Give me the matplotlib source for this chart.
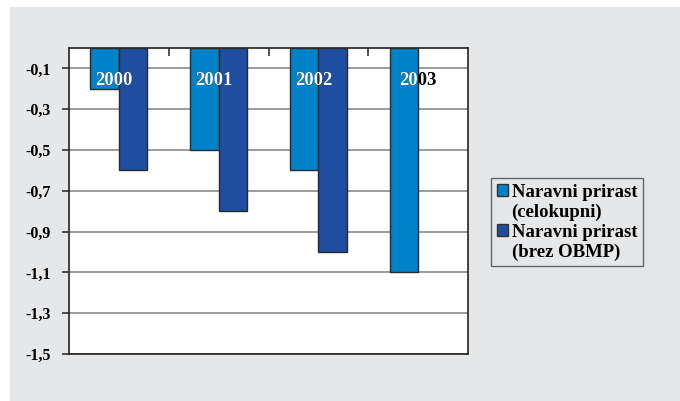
import numpy as np
import matplotlib
matplotlib.use("Agg")
import matplotlib.pyplot as plt
from matplotlib.patches import Rectangle, Patch

years = ["2000", "2001", "2002", "2003"]
total = [-0.2, -0.5, -0.6, -1.1]
without_obmp = [-0.6, -0.8, -1.0, np.nan]
series_names = ["Naravni prirast\n(celokupni)", "Naravni prirast\n(brez OBMP)"]
y_ticks = [-0.1, -0.3, -0.5, -0.7, -0.9, -1.1, -1.3, -1.5]

LIGHT = "#0082c8"
DARK = "#1f4ea0"
BG = "#e6e7e9"
FONT = "Liberation Serif"

fig = plt.figure(figsize=(6.8, 4.01), dpi=100)
fig.patch.set_facecolor("white")
fig.add_artist(Rectangle((10 / 680, 0), 1, 1 - 7 / 401, transform=fig.transFigure,
                         facecolor=BG, edgecolor="none", zorder=-10))

ax = fig.add_axes([69 / 680, 1 - 354 / 401, 399 / 680, 306 / 401])
ax.set_facecolor("white")

x = np.arange(len(years))
w = 0.285
bars1 = ax.bar(x - w / 2, total, w, color=LIGHT, edgecolor="#2a2a2a", linewidth=1.0, zorder=3)
bars2 = ax.bar(x + w / 2, without_obmp, w, color=DARK, edgecolor="#2a2a2a", linewidth=1.0, zorder=3)

ax.set_xlim(-0.5, len(years) - 0.5)
ax.set_ylim(-1.5, 0)
ax.set_yticks(y_ticks)
ax.set_yticklabels([f"{v:.1f}".replace(".", ",") for v in y_ticks],
                   fontfamily=FONT, fontweight="bold", fontsize=11.5)
ax.yaxis.grid(True, color="#8a8a8a", linewidth=1.2, zorder=1)
ax.set_axisbelow(True)
ax.tick_params(axis="y", direction="out", length=5, width=1.1, pad=8, color="#222")

# category separators hang from the top edge, where zero is
ax.xaxis.tick_top()
ax.set_xticks(x[:-1] + 0.5)
ax.set_xticklabels([])
ax.tick_params(axis="x", direction="in", length=6, width=1.1, color="#222")

for s in ax.spines.values():
    s.set_color("#222")
    s.set_linewidth(1.2)

# year labels: black text, overprinted in white where it sits on a bar
for i, yr in enumerate(years):
    kw = dict(ha="center", va="center", fontfamily=FONT, fontweight="bold",
              fontsize=13.5, zorder=5)
    xt = i - 0.05 if np.isfinite(without_obmp[i]) else i
    ax.text(xt, -0.157, yr, color="black", **kw)
    for b in (bars1[i], bars2[i]):
        if not np.isfinite(b.get_height()):
            continue
        t = ax.text(xt, -0.157, yr, color="white", **kw)
        t.set_clip_path(b)
        t.set_clip_on(True)

handles = [Patch(facecolor=LIGHT, edgecolor="#333"), Patch(visible=False),
           Patch(facecolor=DARK, edgecolor="#333"), Patch(visible=False)]
labels = []
for name in series_names:
    labels.extend(name.split("\n"))
leg = fig.legend(handles, labels, loc="upper left",
                 bbox_to_anchor=(491 / 680, 1 - 178 / 401),
                 prop={"family": FONT, "weight": "bold", "size": 13.5},
                 handlelength=0.6, handleheight=0.6, handletextpad=0.2,
                 labelspacing=0.15, borderpad=0.3, borderaxespad=0,
                 frameon=True, fancybox=False)
leg.get_frame().set_facecolor(BG)
leg.get_frame().set_edgecolor("#444")
leg.get_frame().set_linewidth(1.0)

fig.savefig("out.png", dpi=100)
